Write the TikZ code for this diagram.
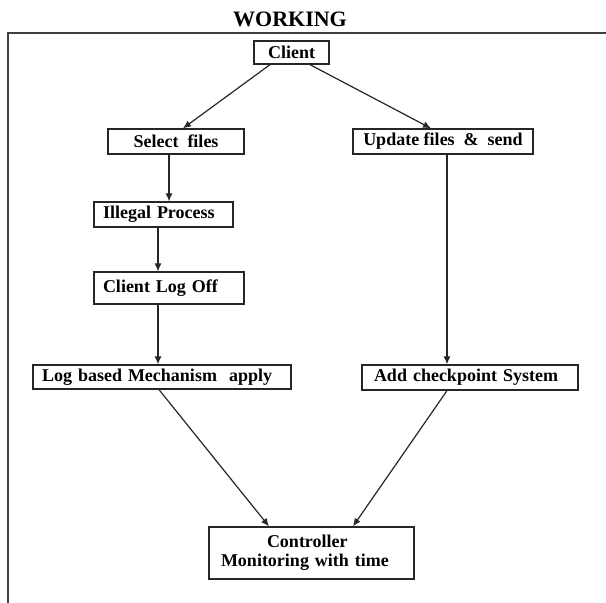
\documentclass[tikz,border=0pt]{standalone}
\usepackage{fontspec}
\setmainfont{Liberation Serif}
\usetikzlibrary{arrows.meta}
\begin{document}
\begin{tikzpicture}[x=1pt,y=-1pt,
  box/.style={draw=black!85, line width=1.3pt, rectangle, inner ysep=0pt,
    font=\fontsize{18}{19}\selectfont\bfseries},
  cbox/.style={box, align=center},
  lbox/.style={box, align=left},
  conn/.style={draw=black!85, line width=1.2pt, -{Latex[length=8pt,width=7pt]}},
  frame/.style={draw=black!75, line width=1.2pt}]
\useasboundingbox (0,0) rectangle (606,603);
\node[font=\fontsize{22}{24}\selectfont\bfseries] (title) at (290,19) {WORKING};
\draw[frame] (606,33) -- (8,33) -- (8,603);

\node[cbox, minimum width=75pt, minimum height=23pt, inner xsep=0pt] (client) at (291.5,52.5) {Client};
\node[cbox, minimum width=136pt, minimum height=25pt, inner xsep=0pt] (select) at (176,141.5) {Select\ \ files};
\node[cbox, minimum width=180pt, minimum height=25pt, inner xsep=0pt] (update) at (443,141.5) {Update files\ \ \&\ \ send};
\node[lbox, inner xsep=9pt, text width=121pt, minimum height=25pt] (illegal) at (163.5,214.5) {Illegal Process};
\node[lbox, inner xsep=9pt, text width=132pt, minimum height=32pt] (logoff) at (169,288) {Client Log Off};
\node[lbox, inner xsep=9pt, text width=240pt, minimum height=24pt] (logbased) at (162,377) {\mbox{Log based Mechanism\ \ apply}};
\node[lbox, inner xsep=12pt, text width=192pt, minimum height=25pt] (add) at (470,377.5) {\mbox{Add checkpoint\ System}};
\node[lbox, inner xsep=12pt, text width=181pt, minimum height=52pt] (ctrl) at (311.5,553) {\hspace*{46pt}Controller\\Monitoring with time\\[4pt]};

\draw[conn] ([xshift=-21.5pt]client.south) -- ([xshift=7pt]select.north);
\draw[conn] ([xshift=18.5pt]client.south) -- ([xshift=-12pt]update.north);
\draw[conn] ([xshift=-7pt]select.south) -- ([xshift=5.5pt]illegal.north);
\draw[conn] ([xshift=-5.5pt]illegal.south) -- ([xshift=-11pt]logoff.north);
\draw[conn] ([xshift=-11pt]logoff.south) -- ([xshift=-4pt]logbased.north);
\draw[conn] ([xshift=4pt]update.south) -- ([xshift=-23pt]add.north);
\draw[conn] ([xshift=-3pt]logbased.south) -- ([xshift=-42.5pt]ctrl.north);
\draw[conn] ([xshift=-23pt]add.south) -- ([xshift=41.5pt]ctrl.north);
\end{tikzpicture}
\end{document}
